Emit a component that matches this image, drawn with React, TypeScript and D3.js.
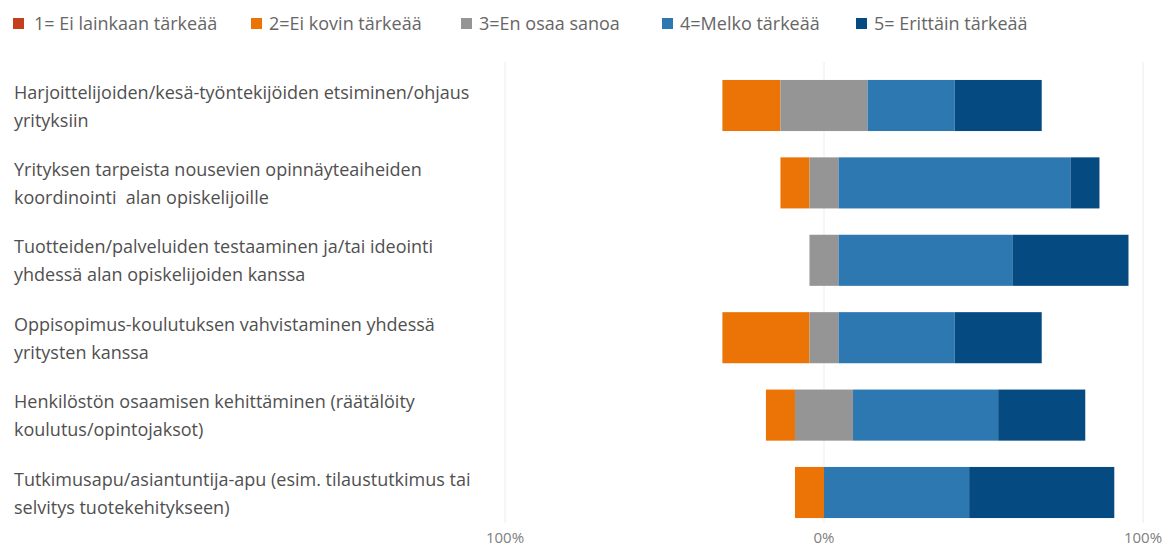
import React from "react";
import * as d3 from "d3";

const categories = [
  ["Harjoittelijoiden/kesä-työntekijöiden etsiminen/ohjaus", "yrityksiin"],
  ["Yrityksen tarpeista nousevien opinnäyteaiheiden", "koordinointi  alan opiskelijoille"],
  ["Tuotteiden/palveluiden testaaminen ja/tai ideointi", "yhdessä alan opiskelijoiden kanssa"],
  ["Oppisopimus-koulutuksen vahvistaminen yhdessä", "yritysten kanssa"],
  ["Henkilöstön osaamisen kehittäminen (räätälöity", "koulutus/opintojaksot)"],
  ["Tutkimusapu/asiantuntija-apu (esim. tilaustutkimus tai", "selvitys tuotekehitykseen)"],
];

const seriesNames = [
  "1= Ei lainkaan tärkeää",
  "2=Ei kovin tärkeää",
  "3=En osaa sanoa",
  "4=Melko tärkeää",
  "5= Erittäin tärkeää",
];

// percentages per category (n = 11)
const s1 = [0, 0, 0, 0, 0, 0];
const s2 = [18.2, 9.1, 0, 27.3, 9.1, 9.1];
const s3 = [27.3, 9.1, 9.1, 9.1, 18.2, 0];
const s4 = [27.3, 72.7, 54.5, 36.4, 45.5, 45.5];
const s5 = [27.3, 9.1, 36.4, 27.3, 27.3, 45.5];

const tickValues = [-100, 0, 100];

const colors = ["#C4401C", "#EC7406", "#959595", "#2E78B2", "#064A82"];

export default function App() {
  const W = 1173;
  const H = 549;
  const x = d3.scaleLinear().domain([-100, 100]).range([505, 1143]);
  const y = d3
    .scaleBand<number>()
    .domain(d3.range(categories.length))
    .range([66.8, 531.2])
    .paddingInner(0.34)
    .paddingOuter(0.17);

  const series = [s1, s2, s3, s4, s5];
  const segs: { i: number; k: number; x0: number; x1: number }[] = [];
  categories.forEach((_, i) => {
    let start = -(s1[i] + s2[i] + s3[i] / 2);
    series.forEach((s, k) => {
      const v = s[i];
      if (v > 0) segs.push({ i, k, x0: start, x1: start + v });
      start += v;
    });
  });

  const legendX = [13, 251, 461, 662, 856];

  return (
    <svg
      width={W}
      height={H}
      style={{ position: "absolute", left: 0, top: 0, background: "#fff" }}
      fontFamily="'Open Sans', 'Noto Sans', sans-serif"
    >
      {/* legend */}
      {seriesNames.map((n, k) => (
        <g key={n} transform={`translate(${legendX[k]},0)`}>
          <rect x={0} y={18} width={11} height={11} fill={colors[k]} />
          <text x={k === 0 ? 21 : 18} y={30} fontSize={18} fill="#666666">
            {n}
          </text>
        </g>
      ))}
      {/* gridlines */}
      {tickValues.map((t) => (
        <line
          key={t}
          x1={x(t)}
          x2={x(t)}
          y1={62}
          y2={523}
          stroke="#ececec"
          strokeWidth={1}
        />
      ))}
      {/* category labels */}
      {categories.map((lines, i) => {
        const cy = (y(i) as number) + y.bandwidth() / 2;
        return (
          <text key={i} fontSize={18} fill="#505050" style={{ whiteSpace: "pre" }}>
            <tspan x={14} y={cy - 7}>
              {lines[0]}
            </tspan>
            <tspan x={14} y={cy + 21}>
              {lines[1]}
            </tspan>
          </text>
        );
      })}
      {/* bars */}
      {segs.map((s, j) => (
        <rect
          key={j}
          x={x(s.x0)}
          width={x(s.x1) - x(s.x0)}
          y={y(s.i)}
          height={y.bandwidth()}
          fill={colors[s.k]}
        />
      ))}
      {/* axis labels */}
      {tickValues.map((t) => (
        <text
          key={t}
          x={x(t)}
          y={543}
          fontSize={15}
          fill="#808080"
          textAnchor="middle"
        >
          {Math.abs(t) + "%"}
        </text>
      ))}
    </svg>
  );
}
